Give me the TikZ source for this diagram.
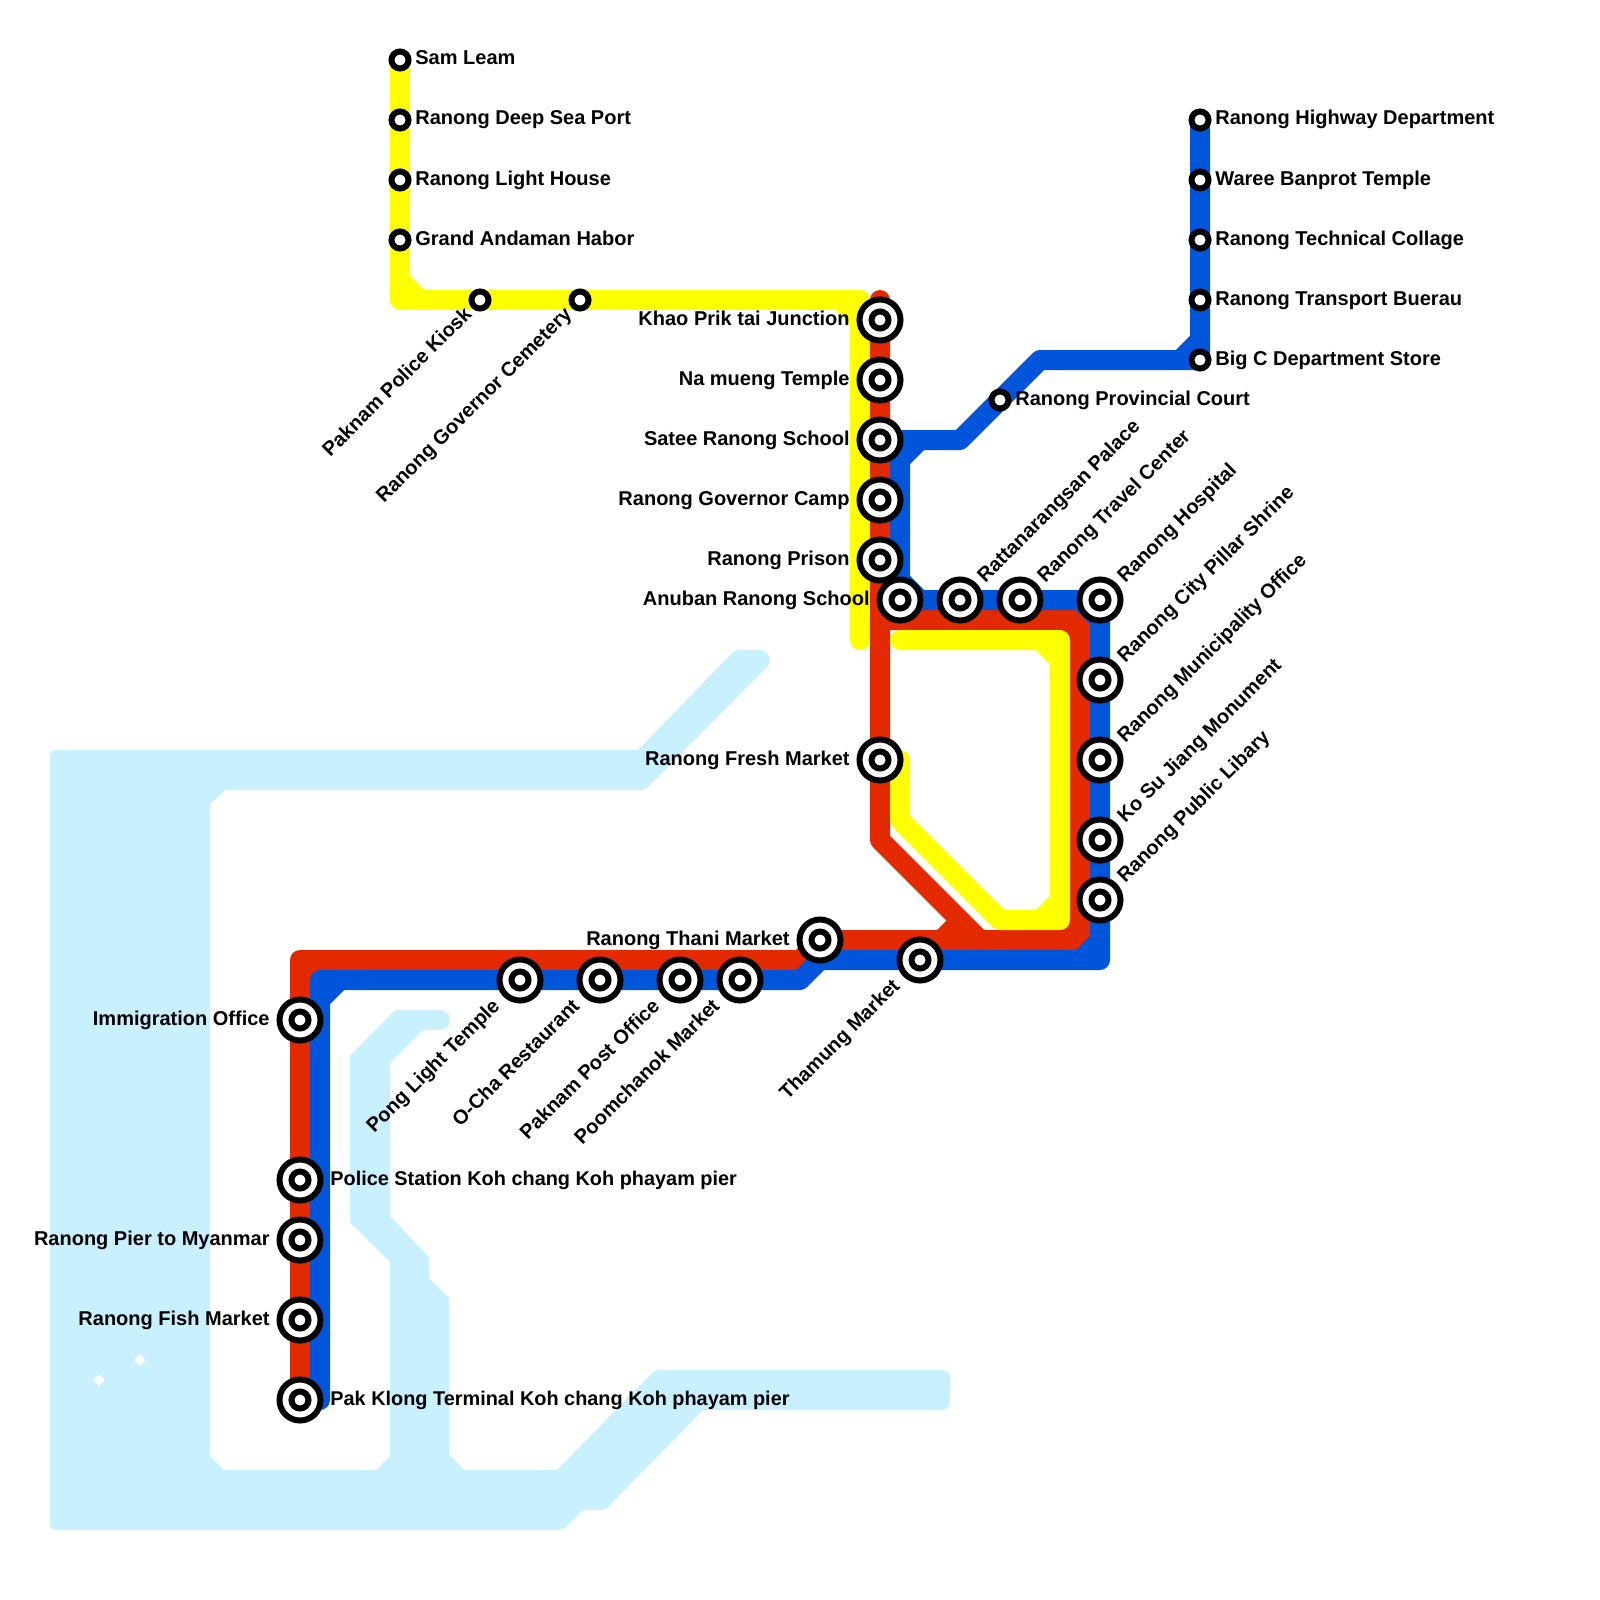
\documentclass[tikz,border=0pt]{standalone}
\usepackage{fontspec}
\setmainfont{Liberation Sans}
\usetikzlibrary{backgrounds}
\definecolor{cwater}{HTML}{C9F0FF}
\definecolor{cred}{HTML}{E32900}
\definecolor{cblue}{HTML}{0055DA}
\definecolor{cyel}{HTML}{FFFF00}
\tikzset{
  x=0.5pt,y=-0.5pt,
  metro/.style={line width=10pt,line cap=round,line join=round},
  redline/.style={metro,draw=cred},
  blueline/.style={metro,draw=cblue},
  yelline/.style={metro,draw=cyel},
  smallst/.style={circle,draw=black,fill=white,line width=3pt,minimum size=8.5pt,inner sep=0pt,outer sep=0pt},
  bigst/.style={circle,draw=black,fill=white,line width=3pt,minimum size=20.5pt,inner sep=0pt,outer sep=0pt,
    path picture={\draw[black,line width=3pt,fill=white] (path picture bounding box.center) circle (4.25pt);}},
  lab/.style={font=\fontsize{10}{12}\selectfont\bfseries,text=black,inner sep=0pt},
  tightlab/.style={font=\fontsize{9.94}{12}\selectfont\bfseries},
  rlab/.style={lab,anchor=base west},
  llab/.style={lab,anchor=base east},
  dlab/.style={lab,anchor=base west,rotate=45},
  elab/.style={lab,anchor=base east,rotate=45},
}
\begin{document}
\begin{tikzpicture}
\useasboundingbox (0,0) rectangle (1600,1600);
% small stations
\node[smallst] (s1) at (400,60) {};
\node[smallst] (s2) at (400,120) {};
\node[smallst] (s3) at (400,180) {};
\node[smallst] (s4) at (400,240) {};
\node[smallst] (s5) at (480,300) {};
\node[smallst] (s6) at (580,300) {};
\node[smallst] (court) at (1000,400) {};
\node[smallst] (h1) at (1200,120) {};
\node[smallst] (h2) at (1200,180) {};
\node[smallst] (h3) at (1200,240) {};
\node[smallst] (h4) at (1200,300) {};
\node[smallst] (h5) at (1200,360) {};
% big stations
\node[bigst] (c1) at (880,320) {};
\node[bigst] (c2) at (880,380) {};
\node[bigst] (c3) at (880,440) {};
\node[bigst] (c4) at (880,500) {};
\node[bigst] (c5) at (880,560) {};
\node[bigst] (t1) at (900,600) {};
\node[bigst] (t2) at (960,600) {};
\node[bigst] (t3) at (1020,600) {};
\node[bigst] (r1) at (1100,600) {};
\node[bigst] (r2) at (1100,680) {};
\node[bigst] (r3) at (1100,760) {};
\node[bigst] (r4) at (1100,840) {};
\node[bigst] (r5) at (1100,900) {};
\node[bigst] (fresh) at (880,760) {};
\node[bigst] (thani) at (820,940) {};
\node[bigst] (tham) at (920,960) {};
\node[bigst] (b1) at (520,980) {};
\node[bigst] (b2) at (600,980) {};
\node[bigst] (b3) at (680,980) {};
\node[bigst] (b4) at (740,980) {};
\node[bigst] (w1) at (300,1020) {};
\node[bigst] (w2) at (300,1180) {};
\node[bigst] (w3) at (300,1240) {};
\node[bigst] (w4) at (300,1320) {};
\node[bigst] (w5) at (300,1400) {};
% free ends and corners
\coordinate (redtop) at (880,300);
\coordinate (redelbow) at (880,840);
\coordinate (redfoot) at (980,940);
\coordinate (redsplit) at (880,620);
\coordinate (yelend) at (860,640);
\coordinate (yel2a) at (900,640);
\coordinate (yel2b) at (900,760);
\begin{pgfonlayer}{background}
\fill[white] (0,0) rectangle (1600,1600);
% water
\fill[cwater] (50,756) [rounded corners=3pt] -- (50,750) [sharp corners] -- (638,750) [rounded corners=2pt] -- (735,650)
  [sharp corners] -- (758,650) .. controls (766,650) and (770,655) .. (770,660)
  .. controls (770,663) and (769,665) .. (767,667) [rounded corners=2pt] -- (645,790) [sharp corners] -- (225,790) -- (210,804)
  -- (210,1456) -- (224,1470) -- (376,1470) -- (390,1456) -- (390,1262) -- (350,1222) -- (350,1056)
  [rounded corners=2pt] -- (395,1010) [sharp corners] -- (440,1010) .. controls (446,1010) and (450,1014) .. (450,1020)
  .. controls (450,1026) and (446,1030) .. (440,1030) -- (423,1030) -- (390,1063)
  -- (390,1216) -- (429,1257) -- (429,1278) -- (449,1298) -- (449,1454) -- (464,1470) -- (557,1470)
  [rounded corners=2pt] -- (655,1370) [rounded corners=4pt] -- (950,1370) -- (950,1410) [sharp corners] -- (703,1410) [rounded corners=2pt] -- (605,1510) [sharp corners]
  -- (583,1510) [rounded corners=2pt] -- (563,1530) [rounded corners=3pt] -- (50,1530) [sharp corners] -- cycle;
\fill[white] (99,1374) -- (105,1380) -- (99,1386) -- (93,1380) -- cycle;
\fill[white] (140,1354) -- (146,1360) -- (140,1366) -- (134,1360) -- cycle;
% red line
\draw[redline] (redtop) -- (c1.center) -- (c2.center) -- (c3.center) -- (c4.center) -- (c5.center)
  -- (fresh.center) -- (redelbow) -- (redfoot);
\draw[redline] (redsplit) -- (1080,620) -- (1080,940) -- (tham.center |- thani.center) -- (thani.center)
  -- (800,960) -- (300,960) -- (w1.center) -- (w2.center) -- (w3.center) -- (w4.center) -- (w5.center);
\draw[redline] (1060,620) -- (1080,640) (1060,940) -- (1080,920) (300,980) -- (320,960);
\fill[cred] (937,930) -- (947,920) -- (970,935) -- (950,940) -- cycle;
% yellow line
\draw[yelline] (s1.center) -- (s2.center) -- (s3.center) -- (s4.center) -- (400,300) -- (s5.center)
  -- (s6.center) -- (860,300) -- (yelend);
\draw[yelline] (400,280) -- (420,300) (840,300) -- (860,320);
\draw[yelline] (yel2a) -- (1060,640) -- (1060,920) -- (1000,920) -- (900,820) -- (yel2b);
\draw[yelline] (1040,640) -- (1060,660) (1060,900) -- (1040,920);
% blue line
\draw[blueline] (c3.center) -- (960,440) -- (court.center) -- (1040,360) -- (h5.center) -- (h4.center)
  -- (h3.center) -- (h2.center) -- (h1.center);
\draw[blueline] (1180,360) -- (1200,340);
\draw[blueline] (900,440) -- (t1.center) -- (t2.center) -- (t3.center) -- (r1.center) -- (r2.center)
  -- (r3.center) -- (r4.center) -- (r5.center) -- (1100,960) -- (tham.center) -- (820,960) -- (800,980)
  -- (b4.center) -- (b3.center) -- (b2.center) -- (b1.center) -- (320,980) -- (320,1400);
\draw[blueline] (900,460) -- (920,440) (900,580) -- (920,600) (1080,600) -- (1100,620)
  (1100,940) -- (1080,960) (320,1000) -- (340,980);
\end{pgfonlayer}
% labels
\node[rlab] (ls1) at (415,65) {Sam Leam};
\node[rlab] (ls2) at (415,125) {Ranong Deep Sea Port};
\node[rlab] (ls3) at (415,185) {Ranong Light House};
\node[rlab] (ls4) at (415,245) {Grand Andaman Habor};
\node[elab] (ls5) at (473,315) {Paknam Police Kiosk};
\node[elab] (ls6) at (573,315) {Ranong Governor Cemetery};
\node[llab] (lc1) at (850,325) {Khao Prik tai Junction};
\node[llab] (lc2) at (850,385) {Na mueng Temple};
\node[llab] (lc3) at (850,445) {Satee Ranong School};
\node[llab] (lc4) at (850,505) {Ranong Governor Camp};
\node[llab] (lc5) at (850,565) {Ranong Prison};
\node[llab] (lt1) at (870,605) {Anuban Ranong School};
\node[llab] (lfresh) at (850,765) {Ranong Fresh Market};
\node[llab] (lthani) at (790,945) {Ranong Thani Market};
\node[rlab] (lcourt) at (1015,405) {Ranong Provincial Court};
\node[rlab] (lh1) at (1215,125) {Ranong Highway Department};
\node[rlab] (lh2) at (1215,185) {Waree Banprot Temple};
\node[rlab] (lh3) at (1215,245) {Ranong Technical Collage};
\node[rlab] (lh4) at (1215,305) {Ranong Transport Buerau};
\node[rlab] (lh5) at (1215,365) {Big C Department Store};
\node[dlab] (lt2) at (985,584) {Rattanarangsan Palace};
\node[dlab] (lt3) at (1045,584) {Ranong Travel Center};
\node[dlab] (lr1) at (1125,584) {Ranong Hospital};
\node[dlab] (lr2) at (1125,664) {Ranong City Pillar Shrine};
\node[dlab] (lr3) at (1125,744) {Ranong Municipality Office};
\node[dlab] (lr4) at (1125,824) {Ko Su Jiang Monument};
\node[dlab] (lr5) at (1125,884) {Ranong Public Libary};
\node[elab] (ltham) at (901,987) {Thamung Market};
\node[elab] (lb1) at (501,1007) {Pong Light Temple};
\node[elab] (lb2) at (581,1007) {O-Cha Restaurant};
\node[elab] (lb3) at (661,1007) {Paknam Post Office};
\node[elab] (lb4) at (721,1007) {Poomchanok Market};
\node[llab] (lw1) at (270,1025) {Immigration Office};
\node[rlab,tightlab] (lw2) at (330,1185) {Police Station Koh chang Koh phayam pier};
\node[llab] (lw3) at (270,1245) {Ranong Pier to Myanmar};
\node[llab] (lw4) at (270,1325) {Ranong Fish Market};
\node[rlab,tightlab] (lw5) at (330,1405) {Pak Klong Terminal Koh chang Koh phayam pier};
\end{tikzpicture}
\end{document}
